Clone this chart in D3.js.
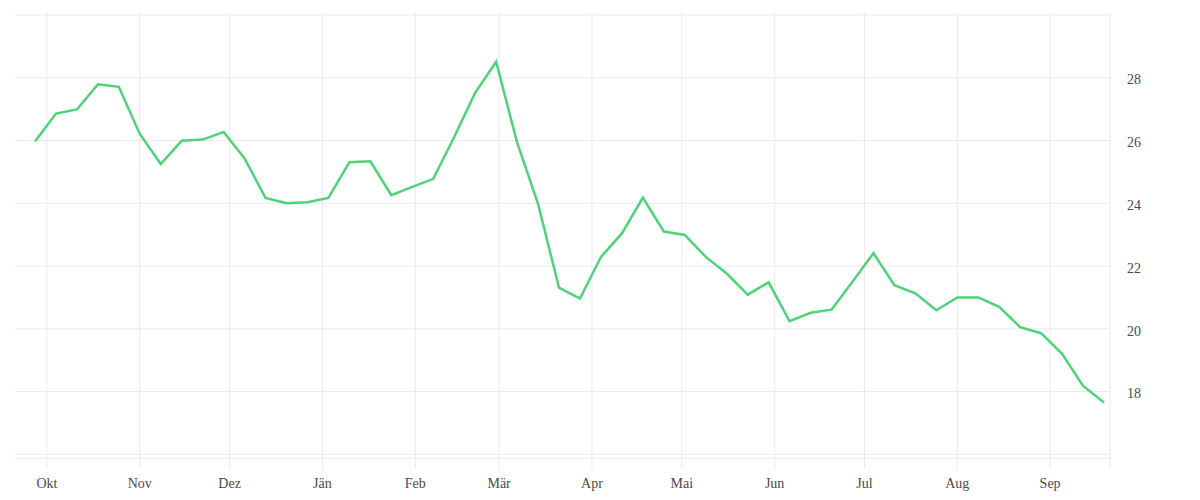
<!DOCTYPE html>
<html>
<head>
<meta charset="utf-8">
<script src="https://cdn.jsdelivr.net/npm/d3@7"></script>
<style>
  html, body { margin: 0; padding: 0; background: #fff; }
  svg text { font-family: "Liberation Serif", "DejaVu Serif", serif; }
</style>
</head>
<body>
<div id="chart"></div>
<script>
// weekly observations
const weeks = [
  "2018-09-27", "2018-10-04", "2018-10-11", "2018-10-18", "2018-10-25",
  "2018-11-01", "2018-11-08", "2018-11-15", "2018-11-22", "2018-11-29",
  "2018-12-06", "2018-12-13", "2018-12-20", "2018-12-27",
  "2019-01-03", "2019-01-10", "2019-01-17", "2019-01-24", "2019-01-31",
  "2019-02-07", "2019-02-14", "2019-02-21", "2019-02-28",
  "2019-03-07", "2019-03-14", "2019-03-21", "2019-03-28",
  "2019-04-04", "2019-04-11", "2019-04-18", "2019-04-25",
  "2019-05-02", "2019-05-09", "2019-05-16", "2019-05-23", "2019-05-30",
  "2019-06-06", "2019-06-13", "2019-06-20", "2019-06-27",
  "2019-07-04", "2019-07-11", "2019-07-18", "2019-07-25",
  "2019-08-01", "2019-08-08", "2019-08-15", "2019-08-22", "2019-08-29",
  "2019-09-05", "2019-09-12", "2019-09-19"
];
const values = [
  25.97, 26.86, 26.99, 27.79, 27.71,
  26.21, 25.25, 25.99, 26.03, 26.27,
  25.43, 24.17, 24.00, 24.03,
  24.17, 25.31, 25.34, 24.26, 24.52,
  24.78, 26.11, 27.52, 28.51,
  25.94, 23.98, 21.31, 20.96,
  22.29, 23.04, 24.18, 23.10,
  22.99, 22.29, 21.76, 21.09, 21.48,
  20.24, 20.51, 20.61, 21.50,
  22.41, 21.39, 21.13, 20.59,
  21.00, 21.00, 20.70, 20.05, 19.86,
  19.20, 18.18, 17.65
];

const monthTicks  = ["2018-10-01", "2018-11-01", "2018-12-01", "2019-01-01", "2019-02-01", "2019-03-01",
                     "2019-04-01", "2019-05-01", "2019-06-01", "2019-07-01", "2019-08-01", "2019-09-01"];
const monthLabels = ["Okt", "Nov", "Dez", "Jän", "Feb", "Mär", "Apr", "Mai", "Jun", "Jul", "Aug", "Sep"];
const yGrid   = [16, 18, 20, 22, 24, 26, 28, 30];
const yLabels = [18, 20, 22, 24, 26, 28];

const W = 1200, H = 500;
const PLOT = { left: 15, right: 1110, top: 15, bottom: 454.3 };
const GRID = "#ebebeb";
const LINE = "#4fd27a";

const parse = d3.timeParse("%Y-%m-%d");
const data = weeks.map((w, i) => ({ date: parse(w), value: values[i] }));

const svg = d3.select("#chart")
  .append("svg")
  .attr("width", W)
  .attr("height", H);

const x = d3.scaleTime()
  .domain([new Date(2018, 8, 20, 16), new Date(2019, 8, 21)])
  .range([PLOT.left + 1, PLOT.right]);

const y = d3.scaleLinear()
  .domain([16, 30])
  .range([PLOT.bottom, PLOT.top]);

// ── horizontal grid ──
svg.append("g")
  .selectAll("line")
  .data(yGrid)
  .join("line")
  .attr("x1", PLOT.left).attr("x2", PLOT.right)
  .attr("y1", d => y(d)).attr("y2", d => y(d))
  .attr("stroke", GRID)
  .attr("stroke-width", 1);

// baseline just under the lowest grid line
svg.append("line")
  .attr("x1", PLOT.left).attr("x2", PLOT.right)
  .attr("y1", y(16) + 4).attr("y2", y(16) + 4)
  .attr("stroke", GRID);

// ── vertical grid (month starts) ──
const months = monthTicks.map(parse);
svg.append("g")
  .selectAll("line")
  .data(months)
  .join("line")
  .attr("x1", d => x(d)).attr("x2", d => x(d))
  .attr("y1", 12).attr("y2", 469)
  .attr("stroke", GRID);

// right border
svg.append("line")
  .attr("x1", PLOT.right).attr("x2", PLOT.right)
  .attr("y1", 12).attr("y2", 469)
  .attr("stroke", GRID);

// ── month labels ──
svg.append("g")
  .selectAll("text")
  .data(months)
  .join("text")
  .attr("x", d => x(d))
  .attr("y", 488)
  .attr("text-anchor", "middle")
  .style("font-size", "14px")
  .style("fill", "#4a4a4a")
  .text((d, i) => monthLabels[i]);

// ── value labels (right) ──
svg.append("g")
  .selectAll("text")
  .data(yLabels)
  .join("text")
  .attr("x", 1127)
  .attr("y", d => y(d) + 3.5)
  .attr("dominant-baseline", "middle")
  .style("font-size", "14px")
  .style("fill", "#4a4a4a")
  .text(d => d);

// ── line ──
const line = d3.line()
  .x(d => x(d.date))
  .y(d => y(d.value));

svg.append("path")
  .datum(data)
  .attr("d", line)
  .attr("fill", "none")
  .attr("stroke", LINE)
  .attr("stroke-width", 2.5)
  .attr("stroke-linejoin", "miter");
</script>
</body>
</html>
